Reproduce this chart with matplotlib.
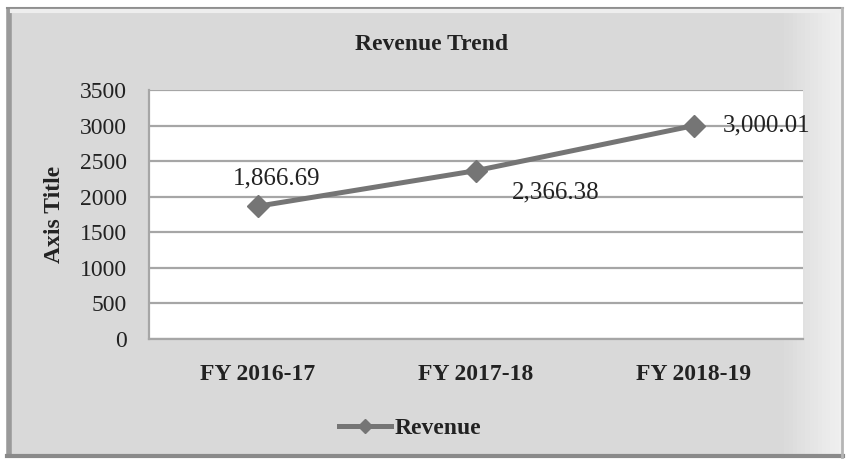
import matplotlib
matplotlib.use("Agg")
import matplotlib.pyplot as plt
import numpy as np
from matplotlib.lines import Line2D

# ---- data ----
categories = ["FY 2016-17", "FY 2017-18", "FY 2018-19"]
revenue = [1866.69, 2366.38, 3000.01]
labels = ["1,866.69", "2,366.38", "3,000.01"]
yticks = [0, 500, 1000, 1500, 2000, 2500, 3000, 3500]
series_name = "Revenue"
title = "Revenue Trend"
ytitle = "Axis Title"

plt.rcParams['font.family'] = ['Liberation Serif', 'DejaVu Serif']

W, H = 846, 463
fig = plt.figure(figsize=(W / 100, H / 100), dpi=100, facecolor="white")

# ---- background chart frame (decoration) ----
bg = fig.add_axes([0, 0, 1, 1], zorder=0)
bg.set_xlim(0, W)
bg.set_ylim(H, 0)
bg.axis("off")
xs = np.linspace(0, 1, 200)
vals = 0.85 + np.clip((xs - 0.93) / 0.07, 0, 1) * 0.09
grad = np.tile(vals, (2, 1))
bg.imshow(grad, cmap="gray", vmin=0, vmax=1, extent=[7, 843, 458, 7], aspect="auto", zorder=0)
# bevel edges
bg.plot([9, 9], [8, 457], color="#9a9a9a", lw=4, zorder=1, solid_capstyle="butt")
bg.plot([7, 843], [7.5, 7.5], color="#8f8f8f", lw=1.5, zorder=1)
bg.plot([12, 840], [11, 11], color="#eeeeee", lw=3, zorder=1)
bg.plot([7, 843], [456, 456], color="#8a8a8a", lw=3, zorder=1)
bg.plot([841.5, 841.5], [8, 457], color="#b5b5b5", lw=2, zorder=1)

# ---- plot area ----
ax = fig.add_axes([149 / W, (H - 339) / H, (803 - 149) / W, (339 - 90) / H], zorder=2)
ax.set_facecolor("white")
x = np.arange(len(categories))
ax.plot(x, revenue, color="#757575", lw=3.6, marker="D", markersize=11,
        markerfacecolor="#757575", markeredgecolor="#757575", zorder=3)

ax.set_xlim(-0.5, len(categories) - 0.5)
ax.set_ylim(0, 3500)
ax.set_yticks(yticks)
ax.set_yticklabels([str(v) for v in yticks])
ax.set_xticks(x)
ax.set_xticklabels(categories, fontweight="bold")
ax.tick_params(axis="y", length=0, pad=16, labelsize=17, colors="#222222")
ax.tick_params(axis="x", length=0, pad=18, labelsize=17, colors="#222222")
ax.grid(axis="y", color="#a6a6a6", lw=1.6, zorder=1)
ax.set_axisbelow(True)
for s in ["top", "right"]:
    ax.spines[s].set_visible(False)
for s in ["left", "bottom"]:
    ax.spines[s].set_color("#a6a6a6")
    ax.spines[s].set_linewidth(1.6)

ax.set_ylabel(ytitle, fontsize=17, fontweight="bold", color="#222222")
ax.yaxis.set_label_coords((65 - 149) / (803 - 149), (339 - 214) / (339 - 90))

# data labels
px = 72 / 100
offsets = [(-25, 28), (36, -22), (29, 0)]
for xi, yi, lab, (dx, dy) in zip(x, revenue, labels, offsets):
    ax.annotate(lab, (xi, yi), xytext=(dx * px, dy * px), textcoords="offset points",
                ha="left", va="center", fontsize=18, color="#222222", zorder=4)

# title
fig.text(432 / W, 1 - 44 / H, title, ha="center", va="center", fontsize=17,
         fontweight="bold", color="#222222", zorder=3)

# legend
handle = Line2D([], [], color="#757575", lw=3.6, marker="D", markersize=7,
                markerfacecolor="#757575", markeredgecolor="#757575")
fig.legend([handle], [series_name], loc="center", bbox_to_anchor=(410 / W, 1 - 428 / H),
           frameon=False, prop={"size": 17, "weight": "bold"}, handlelength=2.2,
           handletextpad=0.15, labelcolor="#222222")

fig.savefig("out.png", dpi=100, facecolor="white")
